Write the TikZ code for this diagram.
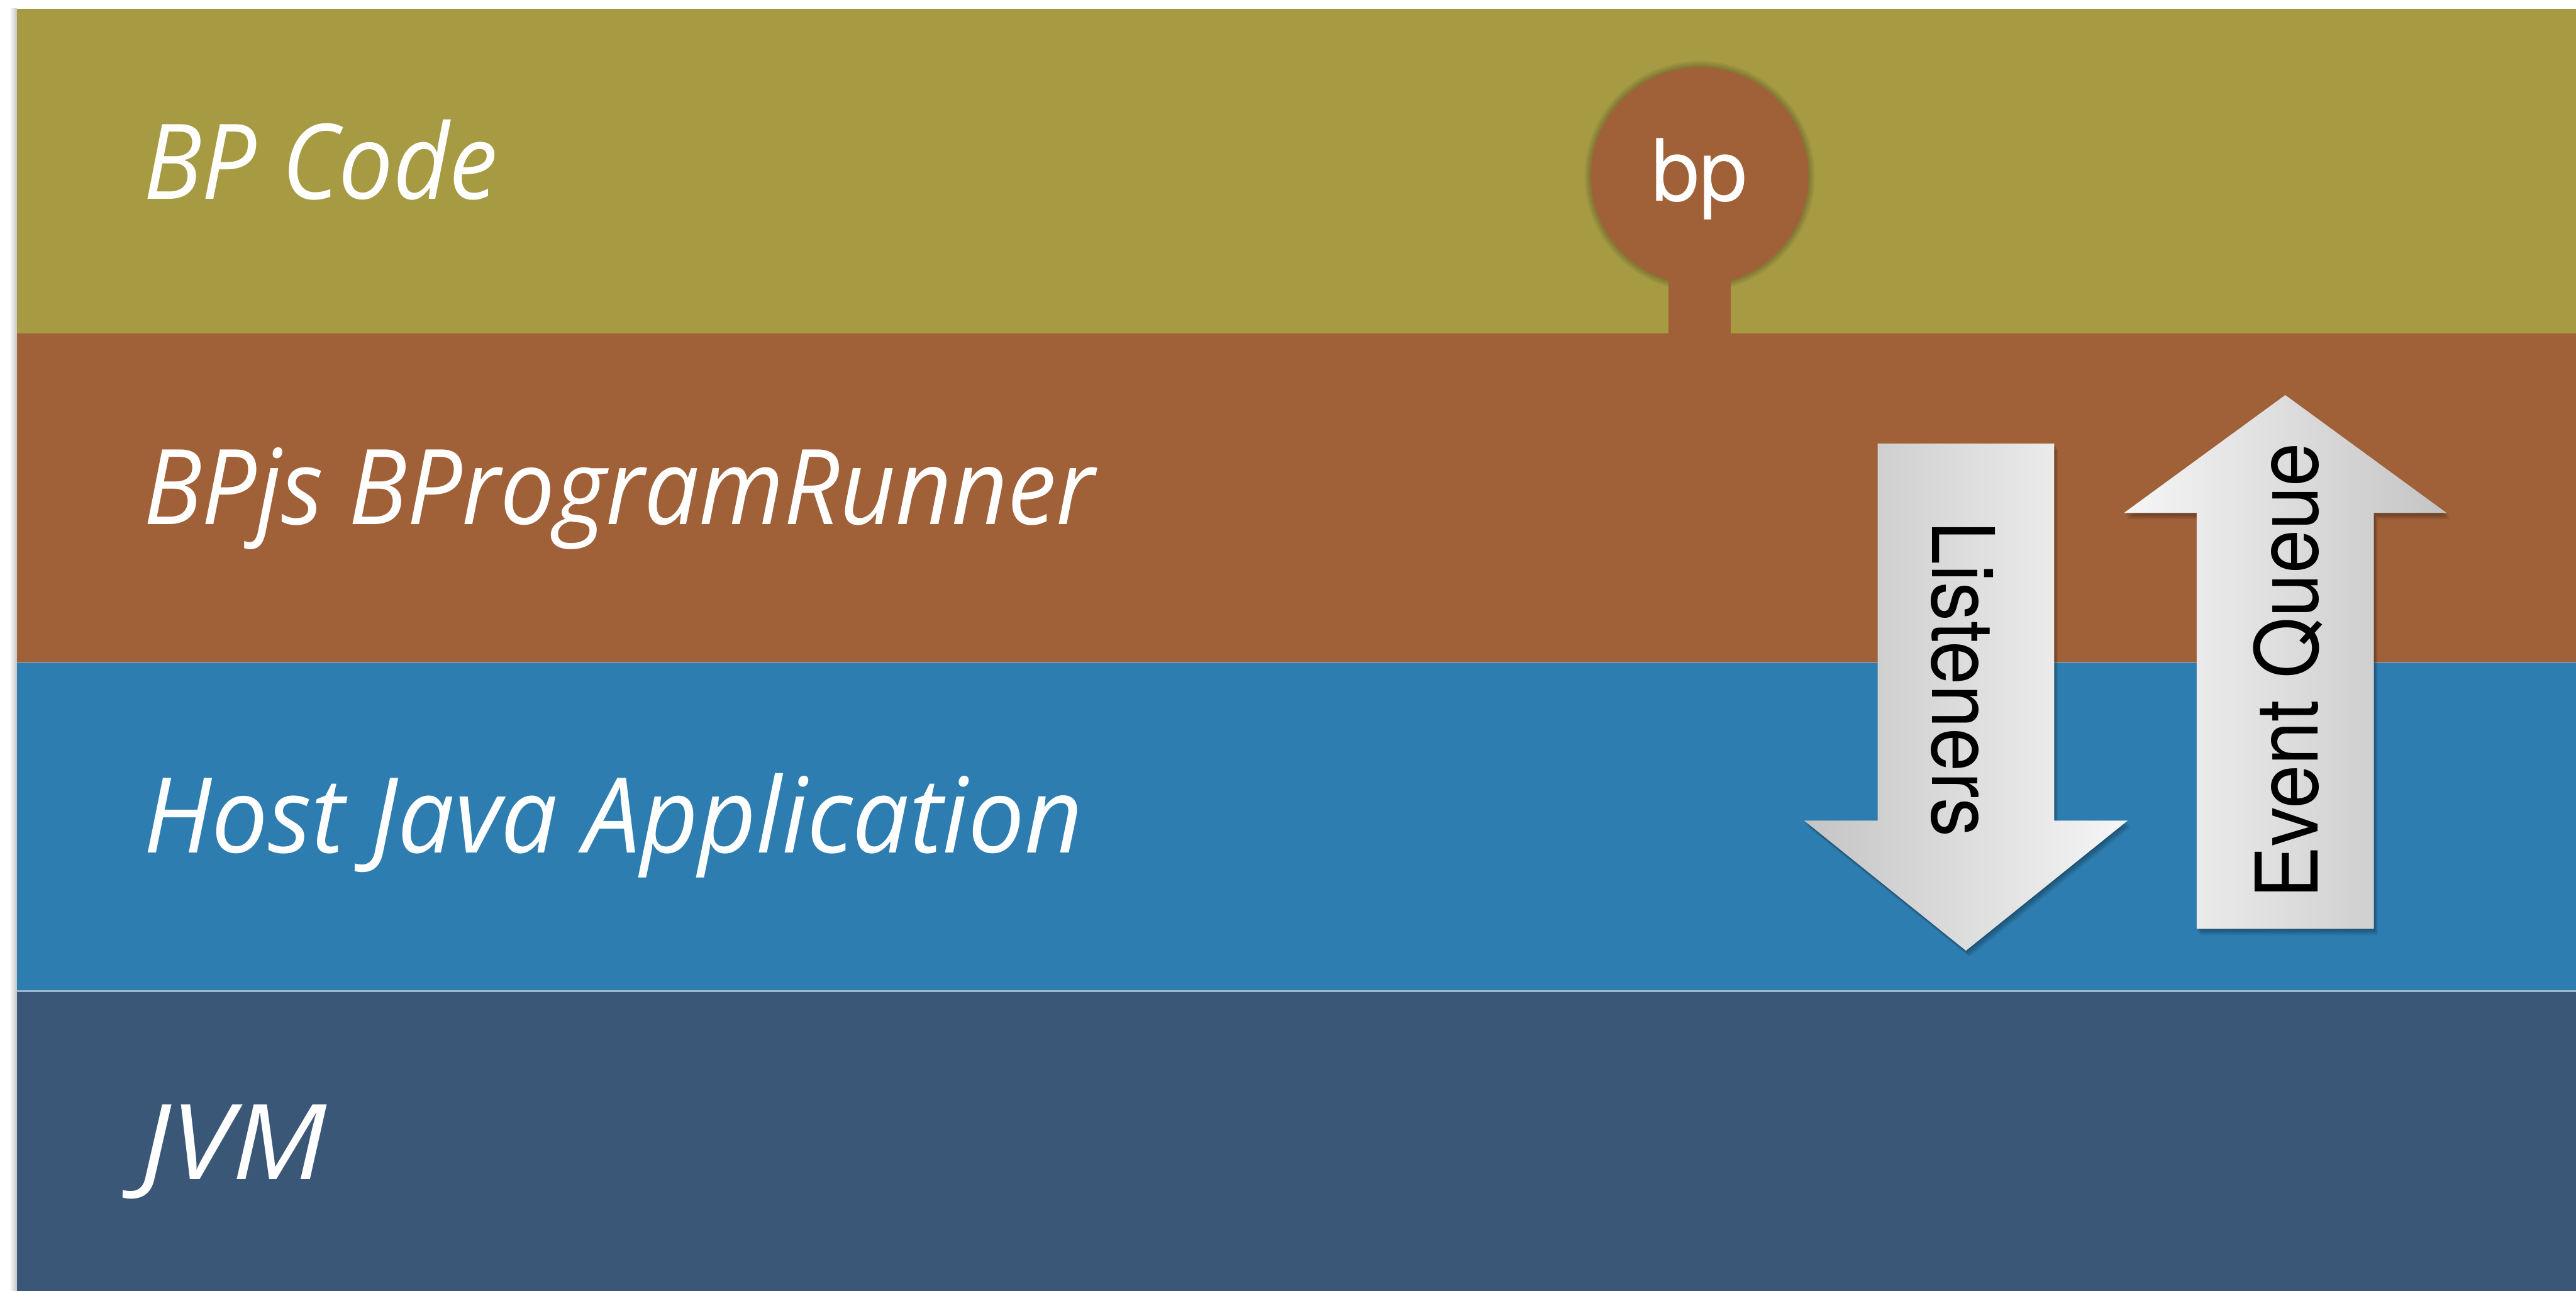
\documentclass[tikz,border=0pt]{standalone}
\usepackage{fontspec}
\usepackage{graphicx}
\setmainfont{Open Sans}
\newfontfamily\helv{TeX Gyre Heros}
\usetikzlibrary{shadings}

\definecolor{codeband}{RGB}{166,154,67}
\definecolor{runnerband}{RGB}{160,96,56}
\definecolor{hostband}{RGB}{45,125,176}
\definecolor{jvmband}{RGB}{58,87,119}
\definecolor{arrowlight}{RGB}{246,246,246}
\definecolor{arrowdark}{RGB}{196,196,196}

% horizontal-only stretch of a label to a given width
\newcommand{\fitwidth}[2]{\resizebox{#1}{\height}{#2}}

\tikzset{
  layerlabel/.style={anchor=base west, inner sep=0pt, text=white,
    font=\fontsize{47.8}{50}\selectfont\itshape},
  pinlabel/.style={anchor=base, inner sep=0pt, text=white,
    font=\helv\fontsize{39.3}{40}\selectfont},
  arrowlabel/.style={anchor=base, inner sep=0pt, text=black,
    font=\helv\fontsize{39.5}{40}\selectfont},
  downshade/.style={left color=arrowdark, right color=arrowlight},
  upshade/.style={left color=arrowlight, right color=arrowdark},
}

\begin{document}
\begin{tikzpicture}
\useasboundingbox (0,0) rectangle (41.42,-20.75);
\fill[white] (0,0) rectangle (41.42,-20.75);

% soft shadow along the left edge of the stack
\shade[left color=white, right color=black!22] (0.15,-0.14) rectangle (0.27,-20.75);

% the four layers
\fill[codeband]   (0.27,-0.14)  rectangle (41.42,-5.36);
\fill[runnerband] (0.27,-5.36)  rectangle (41.42,-10.65);
\fill[hostband]   (0.27,-10.65) rectangle (41.42,-15.93);
\fill[jvmband]    (0.27,-15.93) rectangle (41.42,-20.75);
\draw[white, opacity=0.25, line width=0.6pt] (0.27,-10.65) -- (41.42,-10.65);
\draw[white, opacity=0.55, line width=0.8pt] (0.27,-15.93) -- (41.42,-15.93);

% layer names
\node[layerlabel] (code)   at (2.30,-3.20)  {\fitwidth{5.70cm}{BP Code}};
\node[layerlabel] (runner) at (2.30,-8.43)  {\fitwidth{15.30cm}{BPjs BProgramRunner}};
\node[layerlabel] (host)   at (2.30,-13.71) {\fitwidth{15.10cm}{Host Java Application}};
\node[layerlabel] (jvm)    at (2.25,-18.96) {\fitwidth{3.00cm}{JVM}};

% the bp pin rising from the runner layer
\foreach \i in {1,...,4}
  \fill[black, opacity=0.05] (27.33,-2.83) circle ({1.75+0.025*\i});
\fill[runnerband] (27.33,-2.83) circle (1.75);
\fill[runnerband] (26.83,-4.2) rectangle (27.83,-5.37);
\node[pinlabel] (bp) at (27.33,-3.23) {bp};

% arrow outlines
\def\listenerspath{(30.19,-7.13) -- (33.03,-7.13) -- (33.03,-13.19) -- (34.21,-13.19)
  -- (31.61,-15.28) -- (29.01,-13.19) -- (30.19,-13.19) -- cycle}
\def\queuepath{(35.32,-14.93) -- (38.17,-14.93) -- (38.17,-8.245) -- (39.34,-8.245)
  -- (36.745,-6.35) -- (34.15,-8.245) -- (35.32,-8.245) -- cycle}

% soft drop shadows
\foreach \i in {1,...,5}{
  \begin{scope}[shift={(0.012*\i,-0.02*\i)}]
    \fill[black, opacity=0.07] \listenerspath;
    \fill[black, opacity=0.07] \queuepath;
  \end{scope}
}

\shade[downshade] \listenerspath;
\shade[upshade] \queuepath;

\node[arrowlabel, rotate=-90] (listeners) at (31.07,-10.92) {\fitwidth{5.08cm}{Listeners}};
\node[arrowlabel, rotate=90] (queue) at (37.27,-10.785) {\fitwidth{7.33cm}{Event Queue}};
\end{tikzpicture}
\end{document}
